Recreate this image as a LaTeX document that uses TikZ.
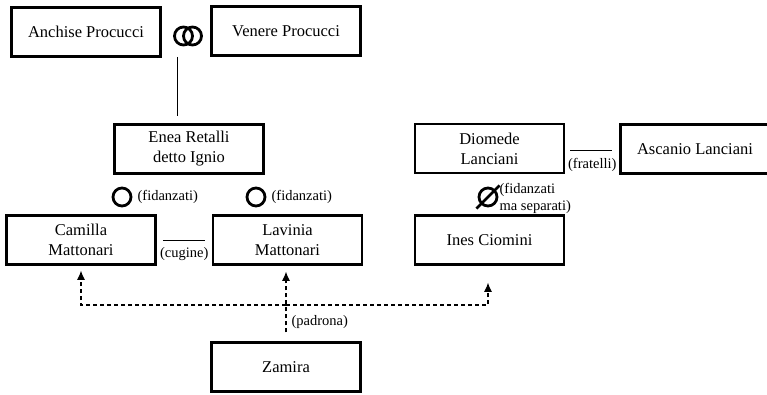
\documentclass[tikz,border=0pt]{standalone}
\usepackage{fontspec}
\setmainfont{Liberation Serif}
\usetikzlibrary{arrows.meta,positioning}
\tikzset{%
	person/.style   = {draw, rectangle, line width=2.5pt, minimum width=149pt, minimum height=49pt, text centered, align=center, font=\fontsize{16.5}{20}\selectfont},
	note/.style     = {font=\fontsize{14.5}{17}\selectfont, inner sep=0pt, align=left},
	ring/.style     = {draw, circle, line width=2.8pt, minimum size=18pt, inner sep=0pt},
	tie/.style      = {line width=1pt},
	dasharrow/.style= {line width=1.1pt, dash pattern=on 4pt off 3pt, -{Latex[length=9pt,width=8pt]}},
}

\begin{document}
\begin{tikzpicture}[x=1pt,y=-1pt]
	\clip (0,0) rectangle (767,395);
	
	\node[person] (anchise) at (86,32) {Anchise Procucci};
	\node[person] (venere) at (286,31) {Venere Procucci};
	\node[person] (enea) at (189,149) {Enea Retalli\\detto Ignio};
	\node[person] (camilla) at (81,240) {Camilla\\Mattonari};
	\node[person] (lavinia) at (287.5,240) {Lavinia\\Mattonari};
	\node[person] (zamira) at (286,367) {Zamira};
	\node[person] (diomede) at (489.5,148.5) {Diomede\\Lanciani};
	\node[person] (ines) at (489.5,240) {Ines Ciomini};
	\node[person] (ascanio) at (695,149) {Ascanio Lanciani};
	
	% matrimonio
	\node[ring] (ringA) at (183.5,36) {};
	\node[ring] (ringB) at (192.5,36) {};
	\path (ringA) -- (ringB) coordinate[midway] (wed);
	\draw[tie, shorten <=21pt, shorten >=7pt] (wed) -- (wed |- enea.north);
	
	% fidanzamenti
	\node[ring, label={[note, label distance=5pt]right:(fidanzati)}] (engA) at (122,197) {};
	\node[ring, label={[note, label distance=5pt]right:(fidanzati)}] (engB) at (256,197) {};
	\node[ring, label={[note, label distance=1pt, yshift=-1pt]right:{(fidanzati\\ma separati)}}] (sep) at (488,197) {};
	\draw[line width=2.8pt, shorten <=-6pt, shorten >=-6pt] (sep.south west) -- (sep.north east);
	
	% parentele
	\draw[tie, shorten <=6pt, shorten >=7pt] (camilla.east) -- (lavinia.west) node[note, midway, below=7pt] {(cugine)};
	\draw[tie, shorten <=5pt, shorten >=7pt] ([yshift=-2.5pt]diomede.east) -- ([yshift=-2.5pt]diomede.east -| ascanio.west) node[note, midway, below=7pt] {(fratelli)};
	
	% padrona
	\coordinate (split) at (286,305);
	\draw[dasharrow, shorten <=9pt, shorten >=6pt] (zamira.north) -- (zamira.north |- lavinia.south) node[note, pos=0.26, right=5pt] {(padrona)};
	\draw[dasharrow, shorten >=5pt] (split) -| (camilla.south);
	\draw[dasharrow, shorten >=17pt] (split) -| ([xshift=-1.5pt]ines.south);
\end{tikzpicture}
\end{document}
